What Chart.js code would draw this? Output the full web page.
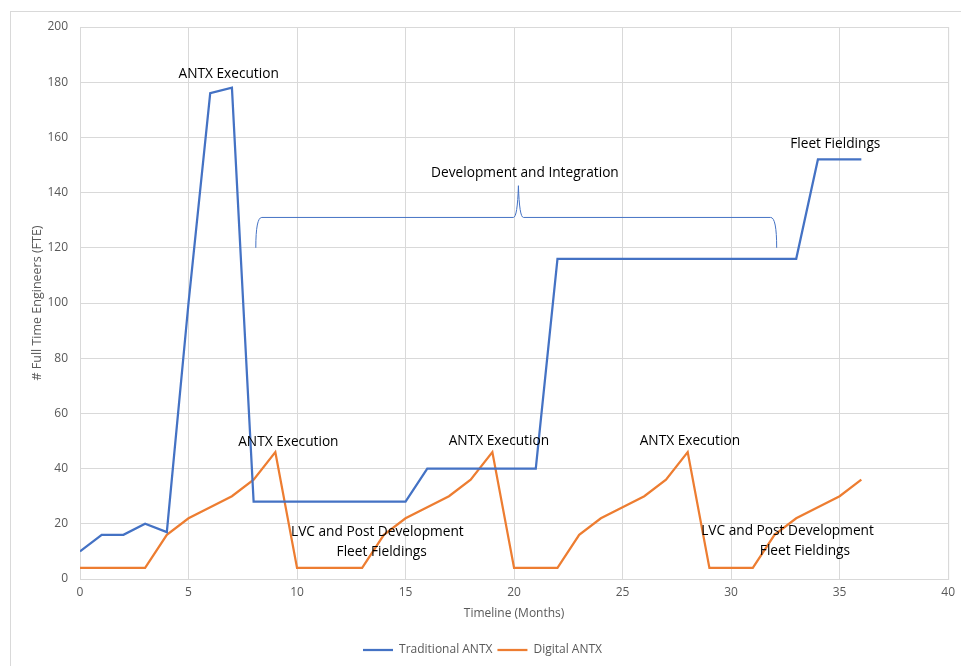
<!DOCTYPE html>
<html>
<head>
  <meta charset="UTF-8" />
  <title>ANTX Staffing</title>
  <script src="https://cdn.jsdelivr.net/npm/chart.js"></script>
  <style>
    html, body { margin: 0; padding: 0; background: #fff; }
  </style>
</head>
<body>
  <canvas id="fteChart" width="961" height="666"></canvas>
  <script>
    // months on the timeline
    const months = [0,1,2,3,4,5,6,7,8,9,10,11,12,13,14,15,16,17,18,19,20,21,22,23,24,25,26,27,28,29,30,31,32,33,34,35,36];

    const traditionalFTE = [10,16,16,20,17,100,176,178,28,28,28,28,28,28,28,28,40,40,40,40,40,40,116,116,116,116,116,116,116,116,116,116,116,116,152,152,152];
    const digitalFTE     = [4,4,4,4,16,22,26,30,36,46,4,4,4,4,16,22,26,30,36,46,4,4,4,16,22,26,30,36,46,4,4,4,16,22,26,30,36];

    const xTicks = [0, 5, 10, 15, 20, 25, 30, 35, 40];
    const yTicks = [0, 20, 40, 60, 80, 100, 120, 140, 160, 180, 200];

    // text callouts: [month, fte, text]
    const callouts = [
      [6.85, 183, "ANTX Execution"],
      [9.6, 49.5, "ANTX Execution"],
      [19.3, 50, "ANTX Execution"],
      [28.1, 50, "ANTX Execution"],
      [20.5, 147, "Development and Integration"],
      [34.8, 157.5, "Fleet Fieldings"],
      [13.7, 17, "LVC and Post Development"],
      [13.9, 9.6, "Fleet Fieldings"],
      [32.6, 17.2, "LVC and Post Development"],
      [33.4, 10.2, "Fleet Fieldings"]
    ];

    // brace over development phase: start, peak, end months; base, line, tip fte
    const braceMonths = [8.1, 20.2, 32.1];
    const braceFTE = [120, 131, 142.5];

    const FONT = "'Open Sans', 'Liberation Sans', sans-serif";

    const framePlugin = {
      id: 'frame',
      beforeDraw(chart) {
        const ctx = chart.ctx;
        ctx.save();
        ctx.strokeStyle = '#d9d9d9';
        ctx.lineWidth = 1;
        ctx.strokeRect(10.5, 11.5, chart.width + 20, chart.height + 20);
        const a = chart.chartArea;
        ctx.strokeRect(a.left + 0.5, a.top + 0.5, a.right - a.left, a.bottom - a.top);
        ctx.restore();
      }
    };

    const calloutPlugin = {
      id: 'callouts',
      afterDatasetsDraw(chart) {
        const ctx = chart.ctx;
        const xs = chart.scales.x, ys = chart.scales.y;
        ctx.save();
        // brace
        const x0 = xs.getPixelForValue(braceMonths[0]);
        const xm = xs.getPixelForValue(braceMonths[1]);
        const x1 = xs.getPixelForValue(braceMonths[2]);
        const yb = ys.getPixelForValue(braceFTE[0]);
        const yl = ys.getPixelForValue(braceFTE[1]);
        const yt = ys.getPixelForValue(braceFTE[2]);
        ctx.strokeStyle = '#4472c4';
        ctx.lineWidth = 1;
        ctx.beginPath();
        ctx.moveTo(x0, yb);
        ctx.quadraticCurveTo(x0, yl, x0 + 6, yl);
        ctx.lineTo(xm - 5, yl);
        ctx.quadraticCurveTo(xm - 1, yl, xm, yt);
        ctx.quadraticCurveTo(xm + 1, yl, xm + 5, yl);
        ctx.lineTo(x1 - 6, yl);
        ctx.quadraticCurveTo(x1, yl, x1, yb);
        ctx.stroke();

        ctx.fillStyle = '#000';
        ctx.font = '13.7px ' + FONT;
        ctx.textAlign = 'center';
        ctx.textBaseline = 'middle';
        callouts.forEach(([m, v, t]) => {
          ctx.fillText(t, xs.getPixelForValue(m), ys.getPixelForValue(v));
        });
        ctx.restore();
      }
    };

    new Chart(document.getElementById('fteChart'), {
      type: 'line',
      data: {
        datasets: [
          {
            label: 'Traditional ANTX',
            data: months.map((m, i) => ({ x: m, y: traditionalFTE[i] })),
            borderColor: '#4472c4',
            backgroundColor: '#4472c4',
            borderWidth: 2.25,
            pointRadius: 0,
            tension: 0
          },
          {
            label: 'Digital ANTX',
            data: months.map((m, i) => ({ x: m, y: digitalFTE[i] })),
            borderColor: '#ed7d31',
            backgroundColor: '#ed7d31',
            borderWidth: 2.25,
            pointRadius: 0,
            tension: 0
          }
        ]
      },
      options: {
        responsive: false,
        animation: false,
        devicePixelRatio: 1,
        layout: { padding: { left: 10, right: 6, top: 27, bottom: 0 } },
        plugins: {
          legend: {
            position: 'bottom',
            labels: {
              usePointStyle: true,
              pointStyle: 'line',
              pointStyleWidth: 30,
              color: '#595959',
              font: { family: FONT, size: 12 },
              padding: 5
            }
          },
          tooltip: { enabled: false }
        },
        scales: {
          x: {
            type: 'linear',
            min: 0,
            max: 40,
            afterBuildTicks: s => { s.ticks = xTicks.map(v => ({ value: v })); },
            afterFit: s => { s.height = 60; },
            ticks: { color: '#595959', font: { family: FONT, size: 12 }, padding: 6, maxRotation: 0 },
            grid: { color: '#d9d9d9', drawTicks: false },
            border: { display: false },
            title: { display: true, text: 'Timeline (Months)', color: '#595959', font: { family: FONT, size: 12 }, padding: { top: 4, bottom: 18 } }
          },
          y: {
            min: 0,
            max: 200,
            afterBuildTicks: s => { s.ticks = yTicks.map(v => ({ value: v })); },
            afterFit: s => { s.width = 70; },
            ticks: { color: '#595959', font: { family: FONT, size: 12 }, padding: 12 },
            grid: { color: '#d9d9d9', drawTicks: false },
            border: { display: false },
            title: { display: true, text: '# Full Time Engineers (FTE)', color: '#595959', font: { family: FONT, size: 12.5 }, padding: { top: 20, bottom: 4 } }
          }
        }
      },
      plugins: [framePlugin, calloutPlugin]
    });
  </script>
</body>
</html>
